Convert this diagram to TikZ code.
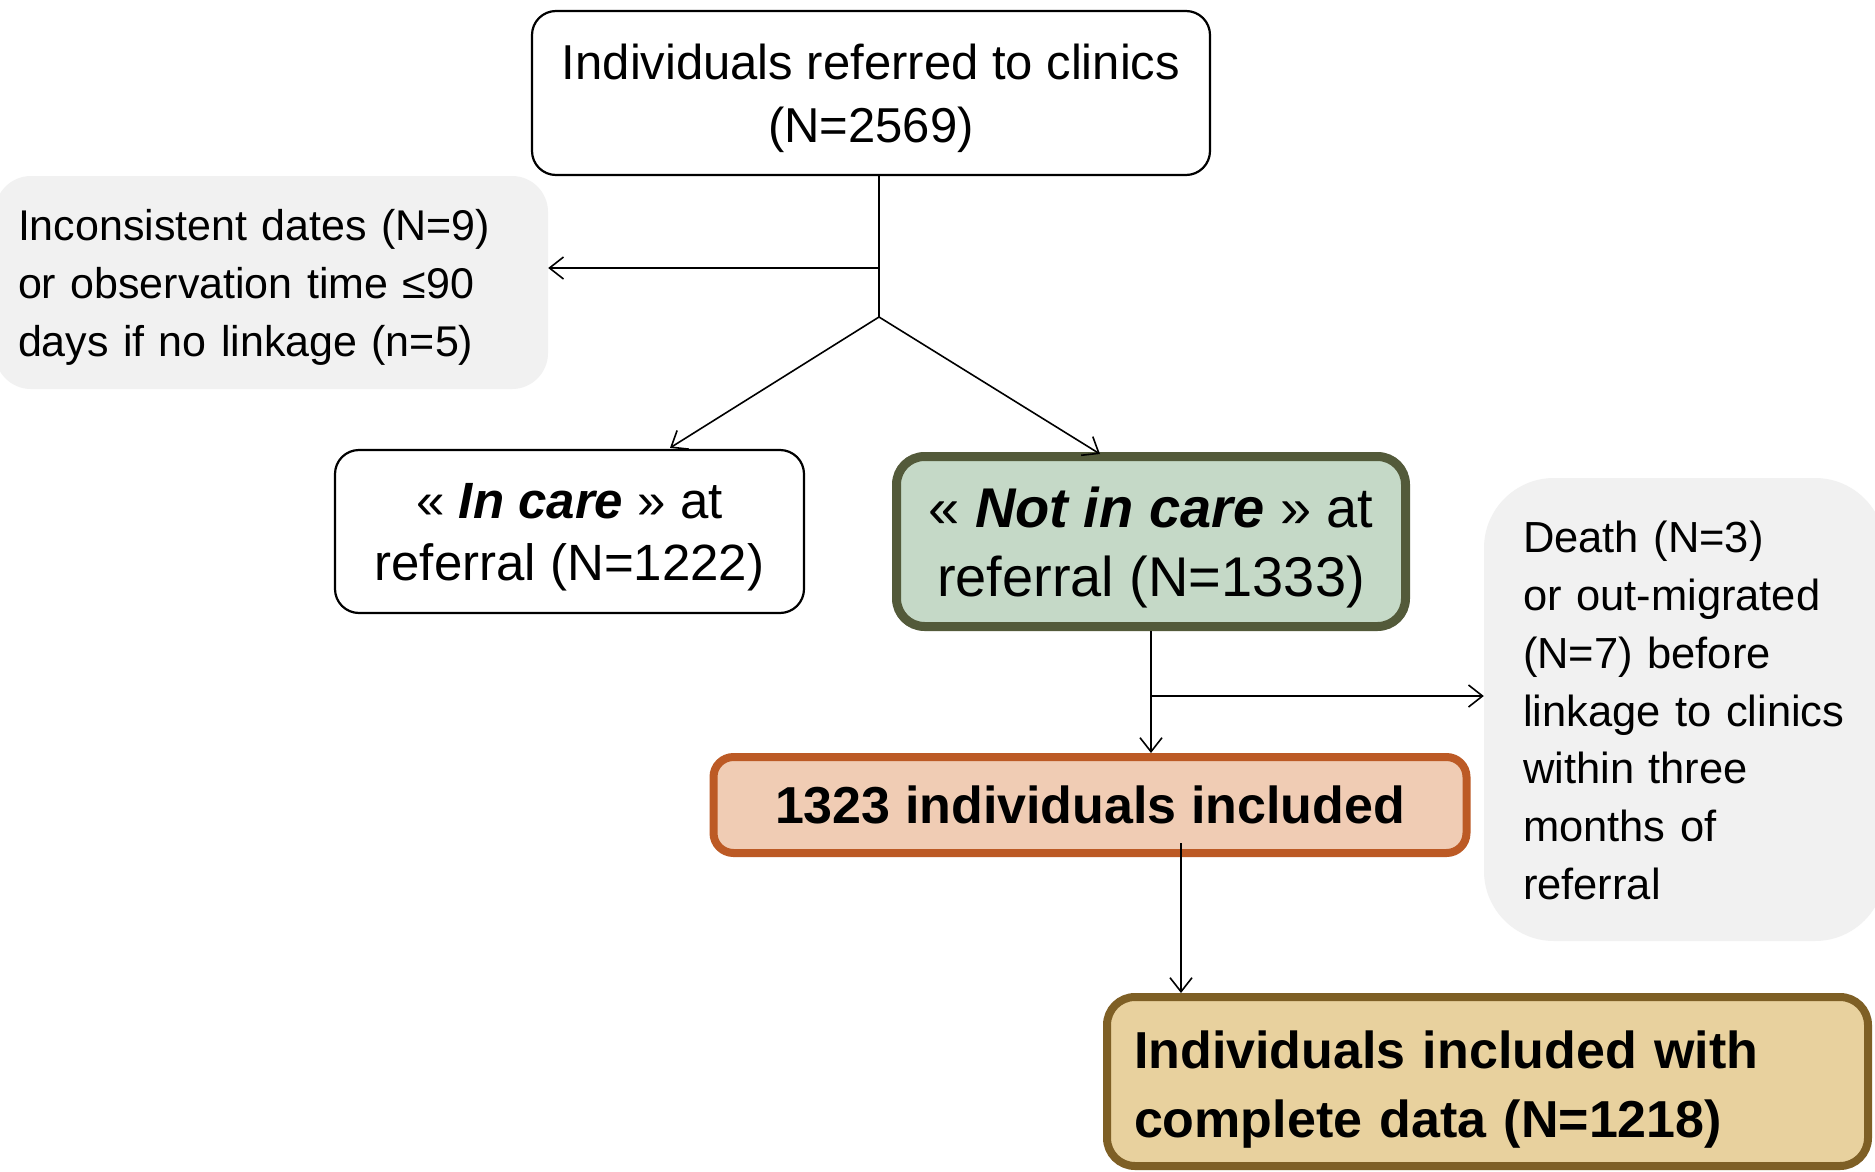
\documentclass[tikz,border=0pt]{standalone}
\usepackage{fontspec}
\setmainfont{Liberation Sans}
\usetikzlibrary{arrows.meta}
\definecolor{greyfill}{HTML}{F1F1F1}
\definecolor{greenfill}{HTML}{C5D9C7}
\definecolor{greenline}{HTML}{535A3A}
\definecolor{orangefill}{HTML}{F0CCB4}
\definecolor{orangeline}{HTML}{BC5A25}
\definecolor{goldfill}{HTML}{E8D19E}
\definecolor{goldline}{HTML}{7E5F25}
\begin{document}
\begin{tikzpicture}[x=1pt,y=-1pt,
  whitebox/.style={draw=black, fill=white, line width=2.2pt, rounded corners=24pt, align=center, inner sep=0pt, text depth=0pt},
  greybox/.style={fill=greyfill, draw=none, inner sep=0pt},
  lefttext/.style={align=left, inner sep=0pt},
  conn/.style={draw=black, line width=1.6pt},
  arr/.style={-{Straight Barb[length=14pt,width=22pt,line width=1.6pt]}}
]
\useasboundingbox (0,0) rectangle (1875,1172);
\fill[white] (0,0) rectangle (1875,1172);

\node[whitebox, minimum width=678, minimum height=164, font=\fontsize{49}{63}\selectfont] (top) at (871,93)
  {Individuals referred to clinics\\(N=2569)};

\node[greybox, rounded corners=36pt, minimum width=553, minimum height=213] (excl1) at (271.5,282.5) {};
\node[lefttext, text width=507, font=\fontsize{43}{58}\selectfont] (excl1t) at ([yshift=-5pt]excl1.center)
  {Inconsistent dates (N=9)\\or observation time ≤90\\days if no linkage (n=5)};

\node[whitebox, minimum width=469, minimum height=163, font=\fontsize{51}{62}\selectfont] (incare) at (569.5,531.5)
  {« \textbf{\textit{In care}} » at\\referral (N=1222)};

\node[draw=greenline, fill=greenfill, line width=9pt, rounded corners=28pt, align=center, inner sep=0pt, text depth=0pt,
  minimum width=509, minimum height=170, font=\fontsize{56}{69}\selectfont] (notin) at (1151,541.5)
  {« \textbf{\textit{Not in care}} » at\\referral (N=1333)};

\node[greybox, rounded corners=70pt, minimum width=401, minimum height=463] (excl2) at (1684.5,709.5) {};
\node[lefttext, text width=323, font=\fontsize{43.5}{57.7}\selectfont] (excl2t) at ([yshift=-1pt]excl2.center)
  {\mbox{Death (N=3)}\\\mbox{or out-migrated}\\\mbox{(N=7) before}\\\mbox{linkage to clinics}\\\mbox{within three}\\\mbox{months of}\\\mbox{referral}};

\node[draw=orangeline, fill=orangefill, line width=8pt, rounded corners=20pt, align=center, inner sep=0pt, text depth=0pt,
  minimum width=753, minimum height=96, font=\bfseries\fontsize{52}{62}\selectfont] (incl) at (1090,805)
  {1323 individuals included};

\node[draw=goldline, fill=goldfill, line width=8pt, rounded corners=28pt, inner sep=0pt,
  minimum width=761, minimum height=169] (final) at (1487.5,1081.5) {};
\node[lefttext, text width=707, font=\bfseries\fontsize{52}{69}\selectfont] (finalt) at ([yshift=-8pt]final.center)
  {Individuals included with\\complete data (N=1218)};

\coordinate (J) at (879,317);
\coordinate (L) at (879,268);
\coordinate (B) at (1151,696);
\coordinate (F) at (1181,843);

\draw[conn] (top.south -| J) -- (J);
\draw[conn,arr] (L) -- (excl1.east |- L);
\draw[conn,arr] (J) -- ([xshift=100.5pt,yshift=1pt]incare.north);
\draw[conn,arr] (J) -- ([xshift=-51pt,yshift=-2pt]notin.north);
\draw[conn,arr] (notin.south) -- (notin.south |- incl.north);
\draw[conn,arr] (B) -- (excl2.west |- B);
\draw[conn,arr] (F) -- (F |- final.north);
\end{tikzpicture}
\end{document}
